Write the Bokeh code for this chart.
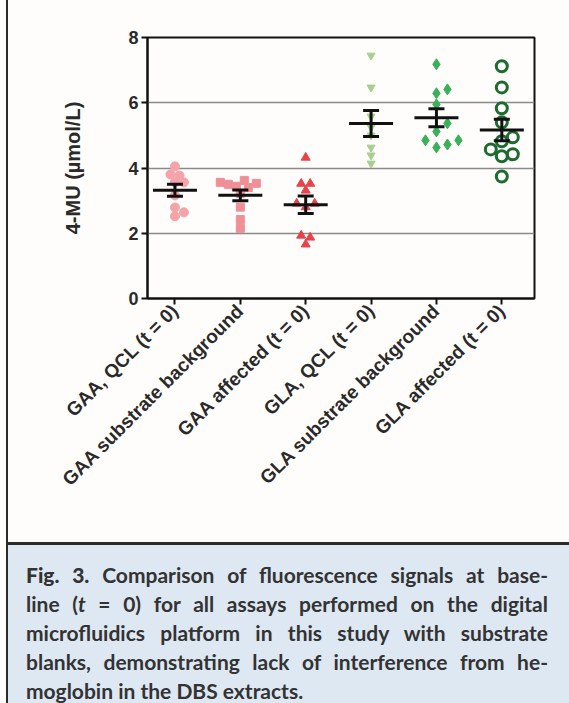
import numpy as np
from math import pi
from bokeh.plotting import figure
from bokeh.models import FixedTicker, Div
from bokeh.layouts import column
from bokeh.embed import file_html
from bokeh.resources import INLINE

# ---------------- data ----------------
categories = ["GAA, QCL (t = 0)", "GAA substrate background", "GAA affected (t = 0)",
              "GLA, QCL (t = 0)", "GLA substrate background", "GLA affected (t = 0)"]
gaa_qcl = [4.05, 3.80, 3.77, 3.56, 3.56, 3.16, 2.79, 2.64, 2.52]
gaa_substrate = [3.62, 3.56, 3.53, 3.50, 3.44, 3.40, 3.22, 2.80, 2.42, 2.15]
gaa_affected = [4.32, 3.52, 3.52, 3.31, 2.91, 2.91, 2.80, 1.93, 1.87, 1.66]
gla_qcl = [7.45, 6.47, 5.58, 5.25, 5.00, 4.63, 4.39, 4.14]
gla_substrate = [7.18, 6.41, 6.29, 5.95, 5.37, 5.12, 4.85, 4.85, 4.72, 4.63]
gla_affected = [7.12, 6.47, 5.83, 5.40, 4.94, 4.82, 4.57, 4.42, 4.36, 3.74]
y_ticks = [0, 2, 4, 6, 8]

groups = [gaa_qcl, gaa_substrate, gaa_affected, gla_qcl, gla_substrate, gla_affected]
styles = [
    dict(marker="circle", size=9, fill_color="#f4a3a9", line_color="#f4a3a9", line_width=1),
    dict(marker="square", size=8, fill_color="#ef8f96", line_color="#ef8f96", line_width=1),
    dict(marker="triangle", size=9, fill_color="#e6434b", line_color="#e6434b", line_width=1),
    dict(marker="inverted_triangle", size=8, fill_color="#a7cf8e", line_color="#a7cf8e", line_width=1),
    dict(marker="diamond", size=11, fill_color="#39b159", line_color="#39b159", line_width=1),
    dict(marker="circle", size=11, fill_color=None, line_color="#1d6b30", line_width=3),
]

W, H_PLOT, H_CAP = 569, 542, 161
FL, FR, FT, FB = 147, 35, 37, 244
x_start, x_end = -0.42, 5.5
px_x = (W - FL - FR) / (x_end - x_start)
px_y = (H_PLOT - FT - FB) / 8.0
BG = "#fffdfb"
FONT = "Arial, Liberation Sans, sans-serif"


def swarm(values, diam):
    """deterministic beeswarm offsets (data x units); lowest values placed first"""
    order = sorted(range(len(values)), key=lambda j: values[j])
    placed = []
    offs = [0.0] * len(values)
    step = diam * 0.5
    cands = [0.0]
    for i in range(1, 40):
        cands += [i * step, -i * step]
    for j in order:
        yv = values[j] * px_y
        for c in cands:
            if all((c - qx) ** 2 + (yv - qy) ** 2 >= (diam * 0.9) ** 2 for qx, qy in placed):
                break
        placed.append((c, yv))
        offs[j] = c / px_x
    return offs


p = figure(width=W, height=H_PLOT, x_range=(x_start, x_end), y_range=(0, 8),
           output_backend="svg", toolbar_location=None,
           min_border_left=FL, min_border_right=FR, min_border_top=FT, min_border_bottom=FB)
p.background_fill_color = BG
p.border_fill_color = None
p.styles = {"background": f"linear-gradient(to right, {BG} 0px, {BG} 6px, #2a2a2a 6px, "
                          f"#2a2a2a 8px, {BG} 8px, {BG} 100%)"}
p.outline_line_color = "#111111"
p.outline_line_width = 2
p.xgrid.visible = False
p.ygrid.ticker = FixedTicker(ticks=y_ticks)
p.ygrid.grid_line_color = "#8a8a8a"
p.ygrid.grid_line_width = 1.5

# axes
p.yaxis.ticker = FixedTicker(ticks=y_ticks)
p.xaxis.ticker = FixedTicker(ticks=list(range(len(categories))))
p.xaxis.major_label_overrides = {i: c for i, c in enumerate(categories)}
p.xaxis.major_label_orientation = pi / 4
for ax in (p.xaxis, p.yaxis):
    ax.axis_line_color = "#111111"
    ax.axis_line_width = 2
    ax.major_tick_line_color = "#111111"
    ax.major_tick_line_width = 2
    ax.major_tick_out = 6
    ax.major_tick_in = 0
    ax.minor_tick_line_color = None
    ax.major_label_text_font = FONT
    ax.major_label_text_font_style = "bold"
    ax.major_label_text_color = "#2a2a2a"
p.yaxis.major_label_text_font_size = "18px"
p.xaxis.major_label_text_font_size = "19px"
p.yaxis.major_label_standoff = 3
p.xaxis.major_label_standoff = 3
p.yaxis.axis_label = "4-MU (µmol/L)"
p.yaxis.axis_label_text_font = FONT
p.yaxis.axis_label_text_font_style = "bold"
p.yaxis.axis_label_text_font_size = "20px"
p.yaxis.axis_label_text_color = "#2a2a2a"
p.yaxis.axis_label_standoff = 41

# points
for i, (vals, st) in enumerate(zip(groups, styles)):
    offs = swarm(vals, st["size"])
    xs = [i + o for o in offs]
    p.scatter(xs, vals, **st)

# mean +/- SEM
half_w = 22 / px_x
cap_w = 8 / px_x
for i, vals in enumerate(groups):
    a = np.array(vals)
    m = a.mean()
    sem = a.std(ddof=1) / np.sqrt(len(a))
    p.segment([i - half_w], [m], [i + half_w], [m], line_color="#111111", line_width=3)
    p.segment([i], [m - sem], [i], [m + sem], line_color="#111111", line_width=3)
    p.segment([i - cap_w, i - cap_w], [m - sem, m + sem], [i + cap_w, i + cap_w], [m - sem, m + sem],
              line_color="#111111", line_width=3)

cap_lines = [
    "<b style='font-weight:900'>Fig. 3.</b> Comparison of fluorescence signals at base-",
    "line (<i>t</i> = 0) for all assays performed on the digital",
    "microfluidics platform in this study with substrate",
    "blanks, demonstrating lack of interference from he-",
]
last_line = "moglobin in the DBS extracts."
body = "".join(
    f"<div style='text-align:justify;text-align-last:justify;white-space:nowrap'>{t}</div>"
    for t in cap_lines) + f"<div style='text-align:left'>{last_line}</div>"
html = (
    f"<div style='width:{W}px;height:{H_CAP}px;box-sizing:border-box;padding-left:6px;"
    f"background:{BG};margin:0;overflow:hidden'>"
    f"<div style='box-sizing:border-box;height:{H_CAP}px;background:#dde8f3;"
    f"border-left:2px solid #2a2a2a;border-top:3px solid #2a2a2a;"
    f"padding:15px 21px 0 18px;font-family:\"Lato\",sans-serif;"
    f"font-weight:bold;font-size:21px;line-height:29px;color:#333333'>{body}</div></div>"
)
cap = Div(text=html, width=W, height=H_CAP, margin=0)

layout = column(p, cap, spacing=0)
open("out.html", "w").write(file_html(layout, INLINE))
